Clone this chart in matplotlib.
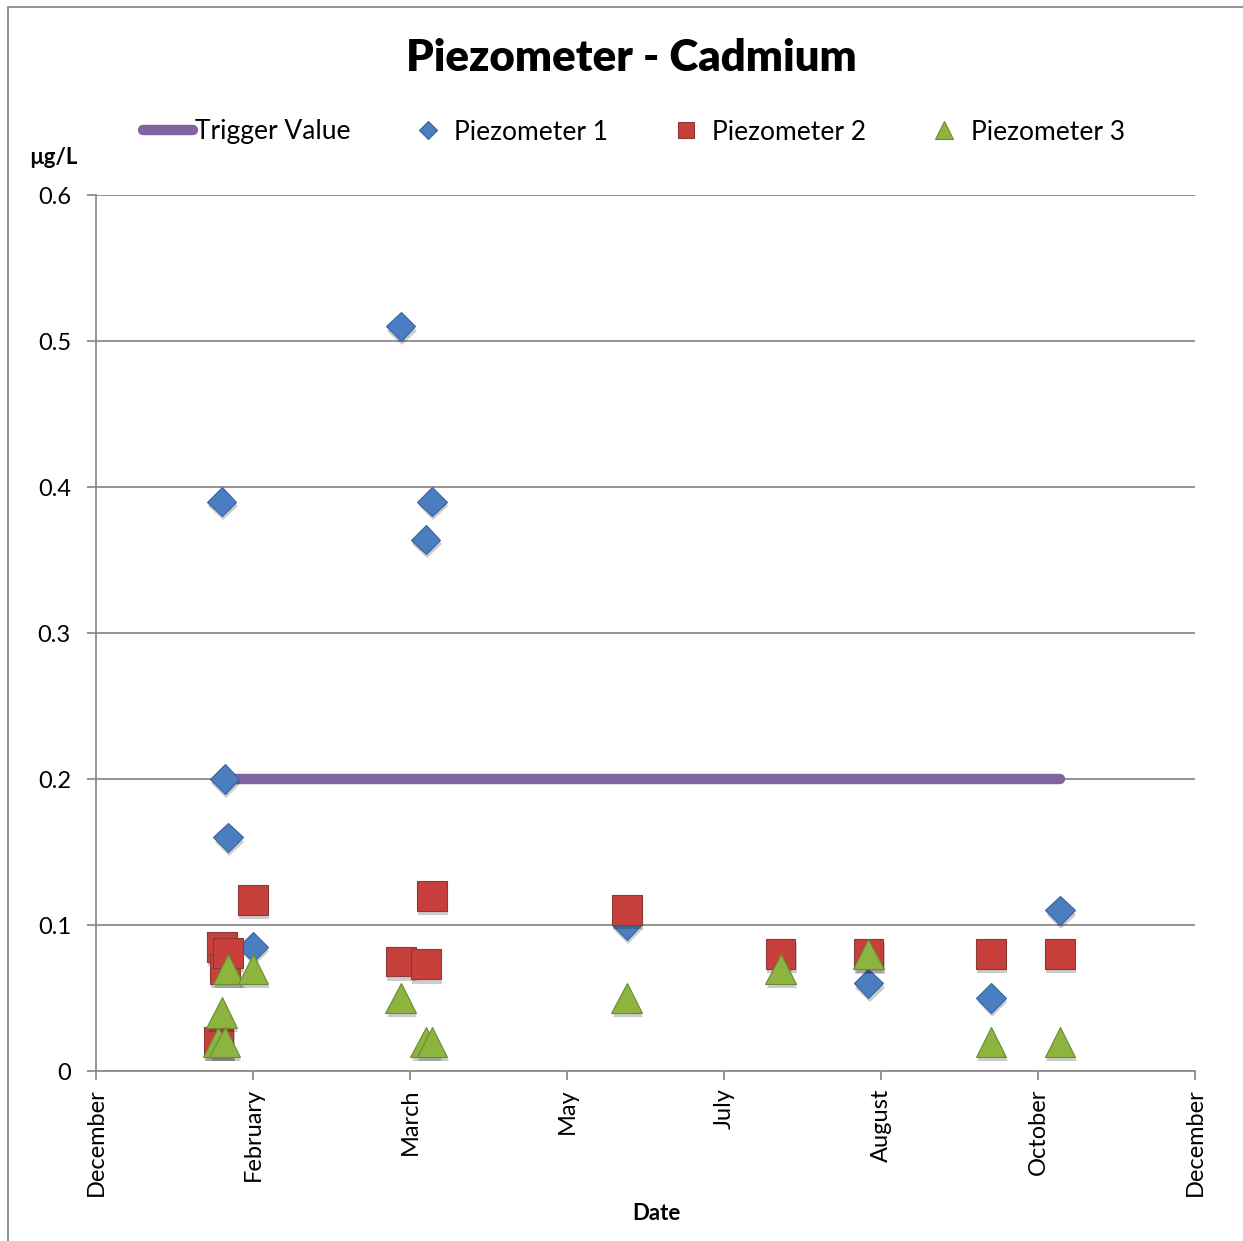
import matplotlib
matplotlib.use('Agg')
import matplotlib.pyplot as plt
import matplotlib.dates as mdates
import matplotlib.patheffects as pe
from matplotlib.patches import Rectangle
from matplotlib.ticker import FuncFormatter, FixedLocator
import numpy as np
from datetime import datetime

# ---------------- data ----------------
sample_dates = ['2011-01-26', '2011-01-27', '2011-01-28', '2011-01-29', '2011-02-06',
                '2011-03-25', '2011-04-02', '2011-04-04', '2011-06-05', '2011-07-24',
                '2011-08-21', '2011-09-29', '2011-10-21']
trigger_value = [0.2] * 13
piezometer_1 = [np.nan, 0.39, 0.20, 0.16, 0.085, 0.51, 0.364, 0.39, 0.10, 0.075, 0.06, 0.05, 0.11]
piezometer_2 = [0.02, 0.085, 0.07, 0.081, 0.117, 0.075, 0.073, 0.12, 0.11, 0.08, 0.08, 0.08, 0.08]
piezometer_3 = [0.02, 0.04, 0.02, 0.07, 0.07, 0.05, 0.02, 0.02, 0.05, 0.07, 0.08, 0.02, 0.02]

axis_start = '2010-12-18'
axis_end = '2011-12-03'
tick_step_days = 50
y_ticks = [0, 0.1, 0.2, 0.3, 0.4, 0.5, 0.6]

title = 'Piezometer - Cadmium'
y_label = 'µg/L'
x_label = 'Date'
series_names = ['Trigger Value', 'Piezometer 1', 'Piezometer 2', 'Piezometer 3']

# ---------------- figure ----------------
W, H = 1243, 1241
plt.rcParams['font.family'] = ['Lato', 'DejaVu Sans']
fig = plt.figure(figsize=(W / 100, H / 100), dpi=100)
fig.patch.set_facecolor('white')

# chart border (partly cropped at right/bottom)
fig.patches.append(Rectangle((8 / W, -0.05), 1.2, 1 - 7 / H + 0.05, transform=fig.transFigure,
                             fill=False, edgecolor='#8a8a8a', lw=1.3, zorder=0))

ax = fig.add_axes([96 / W, 1 - 1071 / H, (1195 - 96) / W, (1071 - 195) / H])

dates = mdates.date2num([datetime.strptime(d, '%Y-%m-%d') for d in sample_dates])
x0 = mdates.date2num(datetime.strptime(axis_start, '%Y-%m-%d'))
x1 = mdates.date2num(datetime.strptime(axis_end, '%Y-%m-%d'))

grid_col = '#8c8c8c'
shadow = [pe.SimplePatchShadow(offset=(1.0, -3), shadow_rgbFace='k', alpha=0.2), pe.Normal()]

ln_trig, = ax.plot(dates, trigger_value, color='#8064A2', lw=7.5, solid_capstyle='round', zorder=3)
ln1, = ax.plot(dates, piezometer_1, ls='none', marker='D', ms=15, mfc='#4A7EC0', mec='#3A629A',
               mew=0.8, zorder=4, path_effects=shadow)
ln2, = ax.plot(dates, piezometer_2, ls='none', marker='s', ms=21.5, mfc='#C8403C', mec='#8C3836',
               mew=0.8, zorder=5, path_effects=shadow)
ln3, = ax.plot(dates, piezometer_3, ls='none', marker='^', ms=22, mfc='#8CB43E', mec='#6A8A34',
               mew=0.8, zorder=6, path_effects=shadow)

ax.set_xlim(x0, x1)
ax.set_ylim(0, 0.6)
ax.xaxis.set_major_locator(FixedLocator(np.arange(x0, x1 + 1, tick_step_days)))
ax.xaxis.set_major_formatter(mdates.DateFormatter('%B'))
ax.yaxis.set_major_locator(FixedLocator(y_ticks))
ax.yaxis.set_major_formatter(FuncFormatter(lambda v, p: '%g' % round(v, 3)))

for s in ['top', 'right']:
    ax.spines[s].set_visible(False)
for s in ['left', 'bottom']:
    ax.spines[s].set_color(grid_col)
    ax.spines[s].set_linewidth(1.3)
ax.grid(axis='y', color=grid_col, lw=1.3)
ax.set_axisbelow(True)
ax.tick_params(axis='y', direction='out', length=6.5, width=1.3, color=grid_col, pad=11.5,
               labelsize=17)
ax.tick_params(axis='x', direction='out', length=6.5, width=1.3, color=grid_col, pad=6,
               labelsize=17, labelrotation=90)

fig.text(631 / W, 1 - 58 / H, title, ha='center', va='center', fontsize=31.5, fontweight='heavy')
fig.text(53 / W, 1 - 157 / H, y_label, ha='center', va='center', fontsize=16, fontweight='bold')
fig.text(656 / W, 1 - 1213 / H, x_label, ha='center', va='center', fontsize=16, fontweight='bold')

leg = fig.legend([ln_trig, ln1, ln2, ln3], series_names, ncol=4, loc='center',
                 bbox_to_anchor=(634 / W, 1 - 132 / H), frameon=False, fontsize=19,
                 handlelength=1.9, handletextpad=0.05, columnspacing=2.0)
hs = leg.legend_handles
hs[1].set_markersize(9)
hs[2].set_markersize(12)
hs[3].set_markersize(13)
for h in hs[1:]:
    h.set_path_effects([])

fig.savefig('out.png', dpi=100, facecolor='white')
